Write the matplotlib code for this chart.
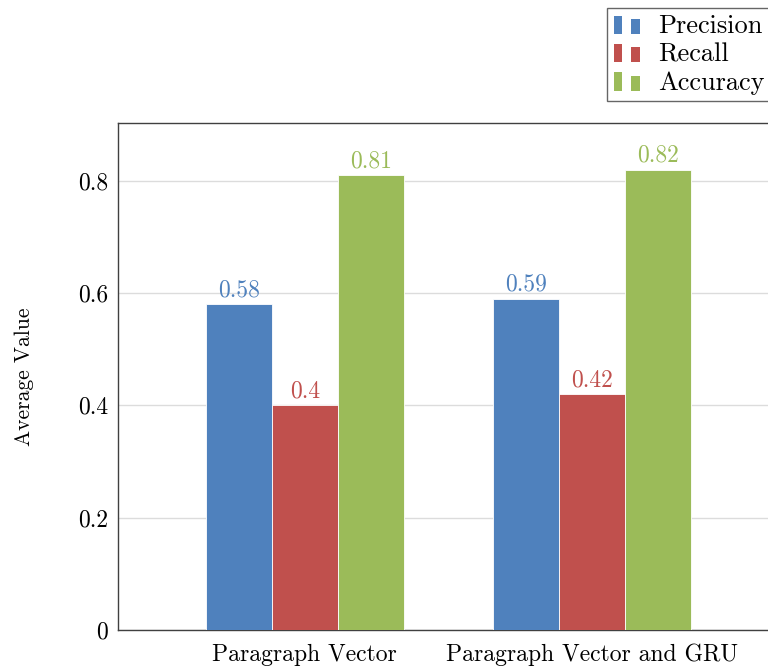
import matplotlib
matplotlib.use("Agg")
import matplotlib.pyplot as plt
import numpy as np
from matplotlib.legend_handler import HandlerBase
from matplotlib.patches import Rectangle

plt.rcParams['font.family'] = ['cmr10', 'DejaVu Serif']
plt.rcParams['mathtext.fontset'] = 'cm'
plt.rcParams['axes.formatter.use_mathtext'] = True

categories = ["Paragraph Vector", "Paragraph Vector and GRU"]
series_names = ["Precision", "Recall", "Accuracy"]
precision = [0.58, 0.59]
recall = [0.40, 0.42]
accuracy = [0.81, 0.82]
value_labels = [["0.58", "0.59"], ["0.4", "0.42"], ["0.81", "0.82"]]
yticks = [0, 0.2, 0.4, 0.6, 0.8]
ytick_labels = ["0", "0.2", "0.4", "0.6", "0.8"]

colors = ["#4F81BD", "#C0504D", "#9BBB59"]
FS = 17

W, H = 768, 668
fig = plt.figure(figsize=(W / 100, H / 100), dpi=100)
left, right, top, bottom = 118, 779, 123, 630
ax = fig.add_axes([left / W, 1 - bottom / H, (right - left) / W, (bottom - top) / H])

x = np.arange(len(categories))
bw = 0.23
series = [precision, recall, accuracy]
handles = []
for i, (vals, c, labs) in enumerate(zip(series, colors, value_labels)):
    bars = ax.bar(x + (i - 1) * bw, vals, bw, color=c, edgecolor='white', linewidth=0.6,
                  label=series_names[i], zorder=3)
    ax.bar_label(bars, labels=labs, padding=2, color=c, fontsize=FS)
    handles.append(bars)

ax.set_xlim(-0.65, 1.65)
ax.set_ylim(0, 0.903)
ax.set_xticks(x)
ax.set_xticklabels(categories, fontsize=FS)
ax.set_yticks(yticks)
ax.set_yticklabels(ytick_labels, fontsize=FS)
ax.tick_params(length=0)
ax.tick_params(axis='y', pad=7)
ax.tick_params(axis='x', pad=10)
ax.yaxis.grid(True, color='#dcdcdc', linewidth=1.0, zorder=0)
ax.set_axisbelow(True)
for s in ax.spines.values():
    s.set_color('#404040')
    s.set_linewidth(1.0)
ax.set_ylabel("Average Value", fontsize=15.5)
ax.yaxis.set_label_coords((34 - left) / (right - left), 0.5)


class TwoBarHandler(HandlerBase):
    def create_artists(self, legend, orig_handle, xdescent, ydescent, width, height, fontsize, trans):
        c = orig_handle.patches[0].get_facecolor()
        w1 = width * 0.30
        w2 = width * 0.33
        h = height * 1.0
        y0 = -ydescent - 0.05 * height
        r1 = Rectangle((-xdescent, y0), w1, h, facecolor=c, transform=trans)
        r2 = Rectangle((-xdescent + width * 0.62, y0), w2, h * 0.82,
                       facecolor=c, transform=trans)
        return [r1, r2]


leg = fig.legend(handles, series_names, loc='upper left',
                 bbox_to_anchor=(607 / W, 1 - 8 / H), fontsize=19,
                 handler_map={type(handles[0]): TwoBarHandler()},
                 frameon=True, fancybox=False, edgecolor='#404040',
                 handlelength=1.05, handletextpad=0.65, borderpad=0.25, labelspacing=0.17,
                 borderaxespad=0)
leg.get_frame().set_linewidth(1.0)

fig.savefig("out.png", dpi=100)
